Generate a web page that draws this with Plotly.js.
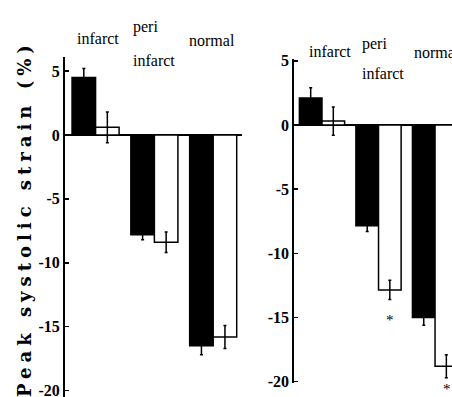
<!DOCTYPE html>
<html>
<head>
<meta charset="utf-8">
<script src="https://cdn.plot.ly/plotly-3.0.1.min.js"></script>
<style>
html,body{margin:0;padding:0;background:#fff;}
#chart{width:452px;height:397px;}
#chart g.annotation[data-index="0"] text{letter-spacing:5px;}
</style>
</head>
<body>
<div id="chart"></div>
<script>
// Categories
const groups = ['infarct', 'peri infarct', 'normal'];
// Left panel values (%)
const leftBlack = [4.5, -7.8, -16.5];
const leftBlackErr = [0.7, 0.4, 0.7];
const leftWhite = [0.6, -8.4, -15.8];
const leftWhiteErr = [1.2, 0.8, 0.9];
// Right panel values (%)
const rightBlack = [2.1, -7.85, -15.0];
const rightBlackErr = [0.8, 0.45, 0.6];
const rightWhite = [0.3, -12.85, -18.8];
const rightWhiteErr = [1.1, 0.75, 0.9];
// Tick labels
const tickVals = [-20, -15, -10, -5, 0, 5];
const tickText = ['-20', '-15', '-10', '-5', '0', '5'];

const W = 452, H = 397;
const px = x => x / W;
const py = y => 1 - y / H;

function barTrace(y, err, fill, xa, ya) {
  return {
    type: 'bar', x: groups, y: y, xaxis: xa, yaxis: ya,
    marker: {color: fill, line: {color: '#000', width: 1.5}},
    error_y: {type: 'data', array: err, visible: true, color: '#000', thickness: 1.5, width: 1.5},
    showlegend: false, hoverinfo: 'skip'
  };
}
const data = [
  barTrace(leftBlack, leftBlackErr, '#000', 'x', 'y'),
  barTrace(leftWhite, leftWhiteErr, '#fff', 'x', 'y'),
  barTrace(rightBlack, rightBlackErr, '#000', 'x2', 'y2'),
  barTrace(rightWhite, rightWhiteErr, '#fff', 'x2', 'y2')
];
function yax(extra) {
  return Object.assign({
    tickmode: 'array', tickvals: tickVals, ticktext: tickText,
    showline: true, linecolor: '#000', linewidth: 2,
    ticks: 'inside', ticklen: 4, tickwidth: 1.5, tickcolor: '#000',
    zeroline: true, zerolinecolor: '#000', zerolinewidth: 2,
    showgrid: false, fixedrange: true, ticklabeloverflow: 'allow',
    tickfont: {family: 'Liberation Serif', size: 16, color: '#000', weight: 'bold'}
  }, extra);
}
function ann(text, x, y, anchor, size) {
  return {text: text, xref: 'paper', yref: 'paper', x: px(x), y: py(y),
    xanchor: anchor || 'center', yanchor: 'middle', showarrow: false,
    font: {family: 'Liberation Serif, serif', size: size || 16, color: '#000'}};
}
const layout = {
  width: W, height: H,
  font: {family: 'Liberation Serif, serif', color: '#000'},
  margin: {l: 0, r: 0, t: 0, b: 0},
  paper_bgcolor: '#fff', plot_bgcolor: 'rgba(0,0,0,0)',
  barmode: 'group', bargap: 0.2, bargroupgap: 0,
  xaxis: {domain: [px(65), px(242)], range: [-0.52, 2.49], visible: false, fixedrange: true},
  xaxis2: {domain: [px(294.3), 1], range: [-0.49, 2.30], visible: false, fixedrange: true},
  yaxis: yax({domain: [py(397), py(57)], range: [-20.5, 6.1]}),
  yaxis2: yax({anchor: 'x2', domain: [py(382.7), py(59)], range: [-20.08, 5.14]}),
  annotations: [
    {text: '<b>Peak systolic strain (%)</b>', xref: 'paper', yref: 'paper', x: px(25), y: py(219),
      xanchor: 'center', yanchor: 'middle', textangle: -90, showarrow: false,
      font: {family: 'DejaVu Serif', size: 18, color: '#000'}},
    ann('infarct', 98, 38),
    ann('peri', 131, 27, 'left'),
    ann('infarct', 131, 60, 'left'),
    ann('normal', 212, 40),
    ann('infarct', 330, 51),
    ann('peri', 360, 44, 'left'),
    ann('infarct', 360, 73, 'left'),
    ann('normal', 412, 53, 'left'),
    ann('*', 390, 320, 'center', 15),
    ann('*', 447, 389, 'center', 15)
  ]
};
Plotly.newPlot('chart', data, layout, {displayModeBar: false, staticPlot: true});
</script>
</body>
</html>
